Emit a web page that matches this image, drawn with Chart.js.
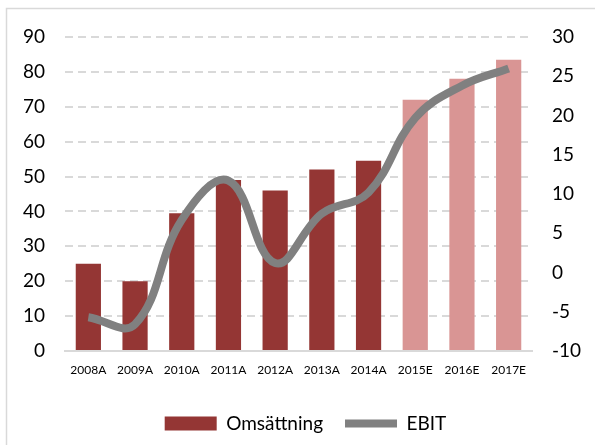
<!DOCTYPE html>
<html>
<head>
<meta charset="utf-8">
<script src="https://cdn.jsdelivr.net/npm/chart.js@4"></script>
<style>
  html, body { margin: 0; padding: 0; background: #fff; }
  #wrap { position: relative; width: 595px; height: 445px; }
</style>
</head>
<body>
<div id="wrap"><canvas id="myChart" width="595" height="445"></canvas></div>
<script>
// x-axis labels
var years = ["2008A", "2009A", "2010A", "2011A", "2012A", "2013A", "2014A", "2015E", "2016E", "2017E"];
// revenue bars (left axis, MSEK)
var omsattning = [25, 20, 39.5, 49, 46, 52, 54.5, 72, 78, 83.5];
// EBIT line (right axis)
var ebit = [-5.7, -6.6, 6.7, 11.7, 1.2, 7.5, 10.2, 19.7, 23.8, 26];

// actual years dark red, estimates light red
var barColors = years.map(function (y) {
  return y.slice(-1) === "E" ? "#d99594" : "#943634";
});

Chart.defaults.font.family = "Lato, 'Open Sans', sans-serif";
Chart.defaults.color = "#000";

// light frame around the chart, like the office chart box
var frame = {
  id: 'frame',
  beforeDraw: function (chart) {
    var c = chart.ctx;
    c.save();
    c.strokeStyle = "#d9d9d9";
    c.lineWidth = 1.5;
    c.beginPath();
    c.moveTo(6.5, 445);
    c.lineTo(6.5, 8.5);
    c.lineTo(595, 8.5);
    c.stroke();
    c.restore();
  },
  // legend sits a bit right of centre in the original
  afterLayout: function (chart) {
    chart.legend.left += 8;
    chart.legend.right += 8;
  }
};

var ctx = document.getElementById("myChart");
var myChart = new Chart(ctx, {
  type: 'bar',
  data: {
    labels: years,
    datasets: [
      {
        type: 'line',
        label: "EBIT",
        data: ebit,
        yAxisID: 'y1',
        borderColor: "#808080",
        backgroundColor: "#808080",
        borderWidth: 8,
        pointRadius: 0,
        tension: 0.4,
        cubicInterpolationMode: 'default',
        borderCapStyle: 'butt',
        fill: false,
        order: 0
      },
      {
        label: "Omsättning",
        data: omsattning,
        yAxisID: 'y',
        backgroundColor: barColors,
        borderWidth: 0,
        categoryPercentage: 1,
        barPercentage: 0.54,
        order: 1
      }
    ]
  },
  options: {
    responsive: false,
    animation: false,
    layout: { padding: { top: 37, bottom: 2, left: 0, right: 0 } },
    plugins: {
      tooltip: { enabled: false },
      legend: {
        position: 'bottom',
        reverse: true,
        labels: {
          usePointStyle: true,
          pointStyleWidth: 52,
          boxHeight: 14,
          padding: 22,
          color: "#000",
          font: { size: 19 },
          generateLabels: function (chart) {
            return chart.data.datasets.map(function (ds, i) {
              var isLine = ds.type === 'line';
              return {
                text: ds.label,
                fillStyle: isLine ? "#808080" : "#943634",
                strokeStyle: isLine ? "#808080" : "#943634",
                lineWidth: isLine ? 8 : 0,
                pointStyle: isLine ? 'line' : 'rect',
                datasetIndex: i,
                hidden: false
              };
            });
          }
        }
      }
    },
    scales: {
      x: {
        grid: { display: false, drawTicks: false },
        border: { display: true, color: "#d9d9d9", width: 2 },
        ticks: { font: { size: 12 }, padding: 12, maxRotation: 0, color: "#000" },
        afterFit: function (s) { s.height = 41; }
      },
      y: {
        position: 'left',
        min: 0,
        max: 90,
        ticks: { stepSize: 10, padding: 20, font: { size: 19 }, color: "#000" },
        grid: { color: "#d9d9d9", lineWidth: 2, drawTicks: false },
        border: { display: false, dash: [8, 5] },
        afterFit: function (s) { s.width = 65; }
      },
      y1: {
        position: 'right',
        min: -10,
        max: 30,
        ticks: { stepSize: 5, padding: 20, font: { size: 19 }, color: "#000" },
        grid: { display: false, drawTicks: false },
        border: { display: false },
        afterFit: function (s) { s.width = 63; }
      }
    }
  },
  plugins: [frame]
});
</script>
</body>
</html>
